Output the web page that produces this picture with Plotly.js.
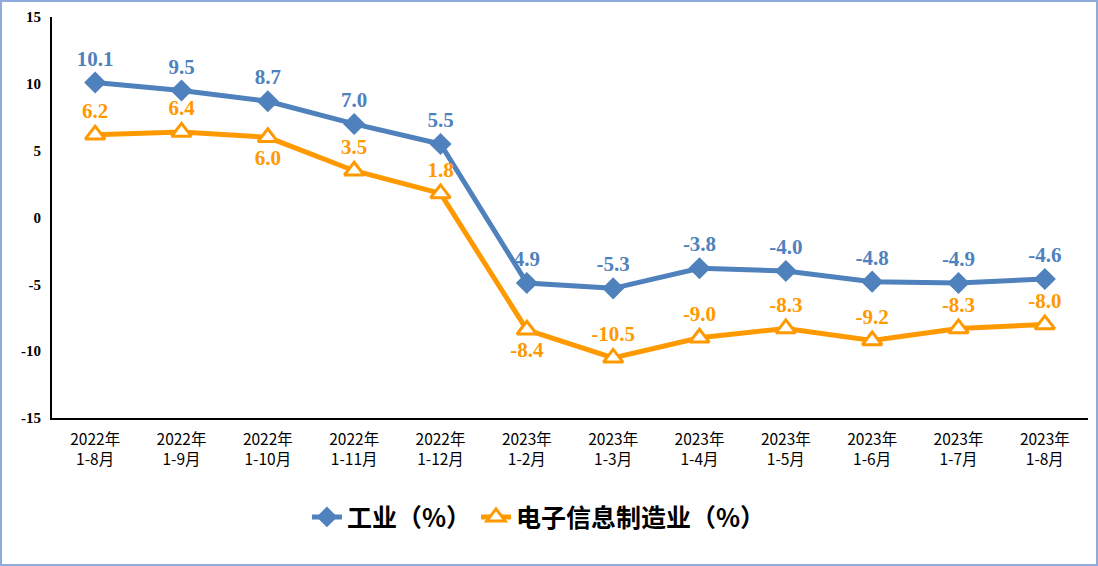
<!DOCTYPE html>
<html><head><meta charset="utf-8">
<script src="https://cdn.plot.ly/plotly-3.0.1.min.js"></script>
<style>
html,body{margin:0;padding:0;background:#fff;}
#wrap{position:relative;width:1098px;height:566px;}
#chart{width:1098px;height:566px;}
#frame{position:absolute;left:0;top:0;width:1098px;height:566px;box-sizing:border-box;border:2px solid #8FAADC;pointer-events:none;}
</style></head>
<body>
<div id="wrap"><div id="chart"></div><div id="frame"></div></div>
<script>
const categories = ["2022年<br>1-8月","2022年<br>1-9月","2022年<br>1-10月","2022年<br>1-11月","2022年<br>1-12月","2023年<br>1-2月","2023年<br>1-3月","2023年<br>1-4月","2023年<br>1-5月","2023年<br>1-6月","2023年<br>1-7月","2023年<br>1-8月"];
const industry = [10.1, 9.5, 8.7, 7.0, 5.5, -4.9, -5.3, -3.8, -4.0, -4.8, -4.9, -4.6];
const industryLabels = ["10.1","9.5","8.7","7.0","5.5","4.9","-5.3","-3.8","-4.0","-4.8","-4.9","-4.6"];
const electronics = [6.2, 6.4, 6.0, 3.5, 1.8, -8.4, -10.5, -9.0, -8.3, -9.2, -8.3, -8.0];
const electronicsLabels = ["6.2","6.4","6.0","3.5","1.8","-8.4","-10.5","-9.0","-8.3","-9.2","-8.3","-8.0"];
const electronicsLabelPos = ["top center","top center","bottom center","top center","top center","bottom center","top center","top center","top center","top center","top center","top center"];
const yTicks = [-15,-10,-5,0,5,10,15];

const blue = "#4F81BD", orange = "#FF9900";
const labelFont = (c)=>({family:"Liberation Serif, Times New Roman, serif", size:21, color:c, weight:"bold"});

const traces = [
  {x:categories, y:industry, name:"工业（%）", type:"scatter", mode:"lines+markers+text",
   line:{color:blue, width:5}, marker:{symbol:"diamond", size:17, color:blue},
   text:industryLabels, textposition:"top center", textfont:labelFont(blue), cliponaxis:false},
  {x:categories, y:electronics, name:"电子信息制造业（%）", type:"scatter", mode:"lines+markers+text",
   line:{color:orange, width:5}, marker:{symbol:"triangle-up", size:17, color:"#ffffff", line:{color:orange, width:3}},
   text:electronicsLabels, textposition:electronicsLabelPos, textfont:labelFont(orange), cliponaxis:false}
];

const layout = {
  width:1098, height:566,
  margin:{l:52, r:10, t:17, b:148},
  paper_bgcolor:"#ffffff", plot_bgcolor:"#ffffff",
  showlegend:true,
  legend:{orientation:"h", x:0.47, xanchor:"center", y:-0.19, yanchor:"top",
    font:{family:"Noto Sans CJK SC", size:25, color:"#000", weight:"bold"}, itemwidth:30, traceorder:"normal"},
  xaxis:{type:"category", range:[-0.5, 11.5], showgrid:false, zeroline:false, showline:true, linecolor:"#000", linewidth:2,
    ticks:"", ticklabelstandoff:6, tickfont:{family:"Noto Sans CJK SC", size:15.5, color:"#000"}, tickangle:0, fixedrange:true},
  yaxis:{range:[-15,15], tickvals:yTicks, ticktext:yTicks.map(String), showgrid:false, zeroline:false,
    showline:true, linecolor:"#000", linewidth:2, ticks:"", ticklabelstandoff:6,
    tickfont:{family:"Liberation Serif, serif", size:15, color:"#000", weight:"bold"}, fixedrange:true}
};
Plotly.newPlot("chart", traces, layout, {displayModeBar:false, staticPlot:true});
</script>
</body></html>
